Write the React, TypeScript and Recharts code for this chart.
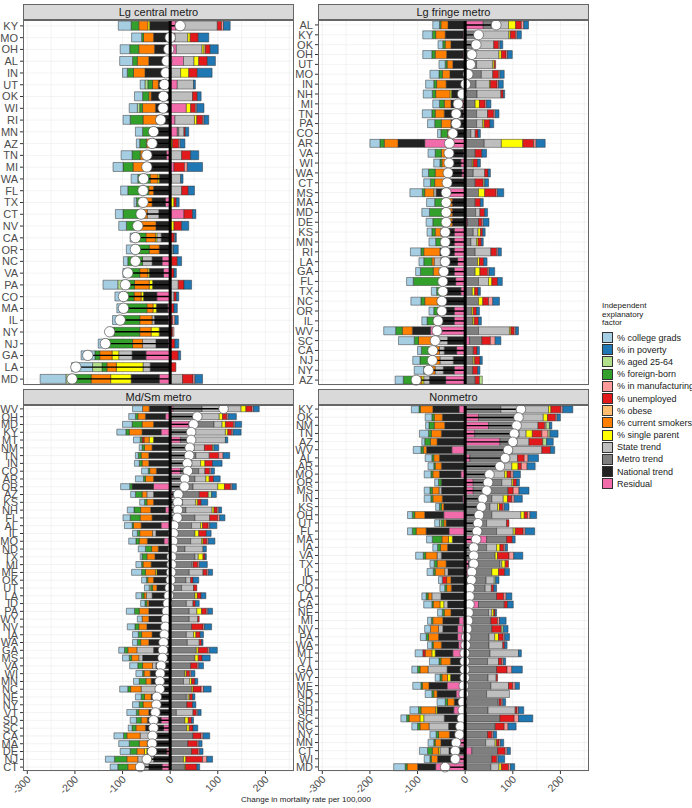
import React from 'react'
import { ComposedChart, Bar, XAxis, YAxis, CartesianGrid, ReferenceLine } from 'recharts'

// legend order; each row below follows it
const FACTORS = [
  '% college grads', '% in poverty', '% aged 25-64', '% foreign-born', '% in manufacturing',
  '% unemployed', '% obese', '% current smokers', '% single parent',
  'State trend', 'Metro trend', 'National trend', 'Residual',
]
const COLORS = [
  '#A6CEE3', '#1F78B4', '#B2DF8A', '#33A02C', '#FB9A99', '#E31A1C', '#FDBF6F',
  '#FF7F00', '#FFFF00', '#BEBEBE', '#7F7F7F', '#222222', '#F26BAA',
]
const X_TICKS = [-300, -200, -100, 0, 100, 200]
const X_GRID = [-300, -250, -200, -150, -100, -50, 0, 50, 100, 150, 200, 250]

// ---- Lg central metro
const centralStates = ['KY', 'MO', 'OH', 'AL', 'IN', 'UT', 'OK', 'WI', 'RI', 'MN', 'AZ', 'TN', 'MI', 'WA', 'FL', 'TX', 'CT', 'NV', 'CA', 'OR', 'NC', 'VA', 'PA', 'CO', 'MA', 'IL', 'NY', 'NJ', 'GA', 'LA', 'MD']
const centralTotals = [21, 0, -3, -7, -9, -12, -14, -15, -20, -35, -38, -49, -49, -56, -57, -57, -61, -68, -73, -73, -73, -89, -94, -98, -98, -105, -127, -136, -173, -198, -206]
const centralValues = [
  [-27, 14, 0, -16, 4, 9, 0, -19, -4, 87, 0, -43, 12],
  [-21, 22, 0, -4, 0, 17, 0, -21, 5, 27, 0, -35, 10],
  [-20, 17, 0, -19, 0, 10, 3, -33, 4, 54, 0, -33, 13],
  [-27, 17, 0, -10, 0, 18, 0, -24, 10, 22, 0, -45, 28],
  [-10, 31, 0, -13, 0, 18, 0, -24, 17, 22, 0, -53, 0],
  [-10, 4, -6, -10, 0, 0, 0, -12, 0, 34, 0, -25, 15],
  [-17, 8, 0, -13, 0, 10, 0, -5, 0, 47, 0, -40, 0],
  [-17, 15, -5, -6, 3, 10, 0, -27, 9, 0, 0, -31, 34],
  [-15, 10, 0, -27, 3, 12, 0, -29, 5, 41, 0, -28, 10],
  [-15, 7, 0, -27, 0, 3, 0, 0, 0, 11, 3, -31, 15],
  [-7, 10, 0, -14, 3, 13, 0, -10, 5, 0, 0, -40, 0],
  [-23, 17, 0, -17, 0, 19, 0, -18, 0, 24, 0, -37, -8],
  [-21, 32, 0, -21, 6, 22, 0, -26, 0, 0, 0, -52, 8],
  [-14, 5, 0, -26, 0, 0, 0, -16, -3, 19, 3, -23, 0],
  [-15, 13, 0, -44, 0, 14, 0, -10, 0, 24, 0, -35, 0],
  [-5, 6, 0, -13, 0, 5, 0, -20, 8, 0, 0, -28, -10],
  [-16, 7, 0, -31, 0, 18, 0, -20, 0, -24, 0, -24, 29],
  [-16, 15, 0, -29, 0, 16, 0, -33, 8, 0, 0, -30, 0],
  [-5, 3, 0, -28, 2, 8, 0, -20, -3, -9, 0, -19, 0],
  [-17, 10, 0, -31, 0, 0, 0, -21, 0, 0, 7, -23, 0],
  [-9, 9, 0, -31, 0, 12, 0, 0, 3, -20, 0, -21, -17],
  [-14, 5, 0, -21, 0, 8, 0, -17, -3, 0, 0, -30, -14],
  [-31, 16, -9, -26, 0, 12, 0, -31, -7, 17, 0, -37, 0],
  [-17, 5, 0, -23, 0, 5, 0, -15, -5, 8, 0, -28, -28],
  [-14, 7, 0, -49, 0, 8, 0, -13, -7, 0, 0, -24, -5],
  [-15, 7, 0, -42, 5, 5, 0, -26, 0, -5, 0, -29, -4],
  [-8, 0, -5, -54, 3, 5, 0, -24, -17, 0, 0, -23, 0],
  [-16, 8, 0, -56, 0, 10, 0, -21, 0, -28, 0, -26, -4],
  [-29, 5, 0, -10, 0, 17, 0, -26, -14, -28, 0, -29, -51],
  [-44, 0, -20, -10, 0, 12, 0, -20, -56, -15, 0, -42, 0],
  [-54, 16, -16, -37, 4, 22, 0, -41, -43, 26, 0, -59, -23],
]

// ---- Lg fringe metro
const fringeStates = ['AL', 'KY', 'OK', 'OH', 'UT', 'MO', 'IN', 'NH', 'MI', 'TN', 'PA', 'CO', 'AR', 'VA', 'WI', 'WA', 'CT', 'MS', 'MA', 'MD', 'DE', 'KS', 'MN', 'RI', 'LA', 'GA', 'FL', 'TX', 'NC', 'OR', 'IL', 'WV', 'SC', 'CA', 'NJ', 'NY', 'AZ']
const fringeTotals = [65, 28, 23, 14, 11, 6, 1, -6, -15, -19, -19, -26, -33, -34, -34, -36, -38, -40, -40, -40, -40, -42, -42, -42, -42, -45, -47, -47, -49, -49, -57, -59, -63, -68, -69, -77, -103]
const fringeValues = [
  [-14, 10, 0, -3, 5, 12, 0, -15, 15, 36, 17, -36, 38],
  [-20, 9, 0, -7, 3, 11, 0, -20, 3, 71, 21, -38, -4],
  [-10, 6, 0, -5, 3, 10, 0, -12, 0, 43, 17, -30, 0],
  [-19, 10, 0, -7, 3, 10, 0, -24, 5, 49, 22, -35, -4],
  [-13, 0, 0, -4, 0, 3, 0, -12, 3, 34, 24, -26, 0],
  [-19, 9, 0, -7, 3, 12, 0, -16, 0, 24, 34, -32, 0],
  [-17, 10, 0, -6, 3, 14, 0, -20, 2, 28, 23, -40, 0],
  [-19, 3, 0, -7, 0, 5, 0, -30, -3, 50, 25, -29, 0],
  [-14, 9, 0, -10, 3, 12, 0, -14, 9, 0, 21, -25, -5],
  [-20, 8, 0, -7, 3, 13, 0, -19, 0, 23, 24, -40, -4],
  [-15, 8, 0, -14, 0, 12, 0, -20, 3, 13, 24, -30, 0],
  [-7, 5, 0, -14, 0, 6, 0, -15, 0, 9, 12, -22, 0],
  [-21, 19, 0, -9, 5, 23, 0, -29, 45, 36, 40, -56, -85],
  [-15, 10, 0, -13, 0, 14, 0, -13, 0, 0, 21, -33, -4],
  [-13, 6, 0, -4, 0, 9, 0, -10, 2, 0, 15, -30, -9],
  [-13, 5, 0, -14, 0, 7, 0, -20, 0, 24, 17, -36, -7],
  [-14, 8, 3, -9, 0, 17, 0, -20, 0, 0, 21, -44, 0],
  [-26, 13, 0, -5, 3, 24, 0, -19, 13, -5, 28, -24, -37],
  [-17, 6, 0, -20, 0, 11, 0, -17, 0, 0, 21, -27, 0],
  [-16, 6, 0, -28, 0, 10, 0, -20, 0, 9, 22, -27, 0],
  [-14, 12, 0, -21, 3, 7, 0, -20, 0, 0, 23, -27, 5],
  [-10, 5, 0, -7, 0, 5, 0, -12, 5, 10, 17, -28, -23],
  [-14, 4, 0, -11, 0, 7, 0, -7, 3, 12, 12, -21, -23],
  [-22, 7, 0, -6, 3, 12, 0, -34, 0, 33, 21, -30, -23],
  [-10, 7, 0, -17, 0, 9, 0, -5, 4, -14, 26, -35, -16],
  [-10, 12, 0, -27, 3, 16, 0, -16, 10, 0, 21, -28, -23],
  [-14, 10, 0, -59, 0, 12, 0, -5, 7, 21, 28, -25, -20],
  [-11, 5, 0, -12, 0, 7, 0, -9, 5, 0, 15, -30, -9],
  [-21, 14, 0, -8, 9, 12, 0, -28, 9, -7, 28, -50, 0],
  [-10, 6, 0, -8, 0, 7, 0, -7, 3, 0, 14, -28, -23],
  [-11, 6, 0, -14, 0, 9, 0, -12, 3, 0, 16, -31, -23],
  [-25, 6, 0, -14, 3, 7, 0, -21, 3, 65, 28, -38, -73],
  [-33, 12, 0, -9, 10, 18, 0, -33, 0, -28, 26, -37, 9],
  [-8, 5, 0, -17, 0, 8, 0, -21, 0, -10, 17, -26, -18],
  [-15, 5, 0, -22, 0, 11, 0, -20, 3, -28, 17, -25, 0],
  [-20, 5, 0, -9, 0, 10, 0, -15, 0, -17, 16, -23, -23],
  [-17, 0, 6, -20, 0, 9, 0, -19, -4, -12, 21, -34, -41],
]

// ---- Md/Sm metro
const mdsmStates = ['WV', 'OH', 'MD', 'KY', 'MT', 'NM', 'TN', 'IN', 'CO', 'AR', 'OR', 'AZ', 'KS', 'NH', 'FL', 'AL', 'IL', 'MO', 'ND', 'TX', 'MI', 'ME', 'OK', 'UT', 'LA', 'ID', 'PA', 'WY', 'NV', 'IA', 'WA', 'GA', 'MS', 'VA', 'WI', 'MN', 'NC', 'NE', 'NY', 'VT', 'SD', 'SC', 'CA', 'MA', 'DE', 'NJ', 'CT']
const mdsmTotals = [112, 57, 49, 44, 44, 41, 40, 36, 37, 31, 30, 17, 16, 16, 15, 8, 7, 6, 6, 3, 3, 2, 1, -1, -3, -5, -7, -9, -10, -12, -14, -15, -16, -19, -21, -22, -22, -28, -29, -31, -35, -35, -37, -38, -38, -49, -63]
const mdsmValues = [
  [-21, 12, 0, 0, 3, 13, 0, -14, 10, 82, 61, -44, 6],
  [-14, 17, 0, -5, 3, 9, 0, -16, 7, 47, 56, -42, -10],
  [-20, 14, 0, -21, 3, 17, 0, -24, 7, 17, 52, -35, 40],
  [-19, 17, 0, -7, 3, 8, 0, -27, 5, 66, 50, -40, -19],
  [-14, 5, 0, -4, 0, -4, 0, -11, -9, 65, 29, -35, 22],
  [-6, 10, 3, -5, 0, 17, 0, -16, 0, 22, 50, -38, 0],
  [-6, 14, 0, -6, 9, 20, 0, -16, 0, 28, 54, -45, 0],
  [-10, 20, 0, -6, 0, 16, 0, -14, 9, 19, 45, -45, 0],
  [-14, 7, 0, -3, 3, 10, 0, -14, 0, 13, 38, -29, 22],
  [-17, 14, 0, -4, 0, 9, 0, -17, 7, 23, 52, -35, 0],
  [-19, 9, 0, -5, 3, 13, 0, 0, 14, 52, 48, -45, -35],
  [-10, 10, 7, -14, 0, 19, 0, -10, 0, -14, 56, -35, 5],
  [-10, 14, 0, -5, 0, 7, 0, -14, 4, 28, 26, -35, 0],
  [-14, 6, 0, -14, 3, 7, 0, -21, 4, 55, 33, -31, -10],
  [-15, 11, 0, -21, 4, 17, 0, -25, 0, 31, 52, -38, 0],
  [-16, 15, 0, -3, 3, 12, 0, -16, 4, 19, 45, -42, -19],
  [-10, 10, 0, -5, 0, 16, 0, -27, 8, -7, 52, -30, 0],
  [-15, 14, 0, -7, 3, 8, 0, -17, 3, 23, 43, -35, -13],
  [-15, 7, 0, -13, 0, 0, 0, -14, 0, 38, 31, -25, 0],
  [-4, 3, 0, -10, 0, 4, 0, -17, 10, 7, 52, -32, 0],
  [-12, 17, 0, -3, 3, 10, 0, -17, 0, 3, 45, -40, 0],
  [-21, 9, 0, -8, 3, 8, 0, -21, -3, 29, 40, -28, 0],
  [-10, 12, 0, -3, 0, 5, 0, -12, 0, 10, 33, -35, 0],
  [-10, 0, -3, -4, 0, 7, 0, -9, 0, 25, 24, -22, -6],
  [-12, 10, 0, -5, 0, 8, 0, -5, 5, -12, 52, -38, 0],
  [-9, 8, 0, -4, 0, 5, 0, -4, 0, 14, 34, -45, 0],
  [-17, 10, 0, -10, 3, 10, 0, -20, 10, 16, 40, -45, 0],
  [-10, 0, 0, 0, 0, 3, 0, -14, 0, 18, 40, -45, 0],
  [-16, 15, 0, -8, 3, 24, 0, -17, 0, 0, 45, -49, 0],
  [-12, 7, 0, -7, 0, 9, 0, -22, 5, 15, 34, -38, 0],
  [-10, 3, 0, -7, 0, 5, 0, -17, 0, 25, 36, -45, 0],
  [-12, 17, 0, -7, 3, 20, 0, -19, 4, -35, 55, -35, 0],
  [-14, 17, 0, -5, 0, 8, 0, -15, 7, -8, 52, -58, 0],
  [-17, 10, 0, -10, 3, 14, 0, -21, 0, -7, 43, -30, 0],
  [-14, 8, 0, -3, 3, 7, 0, -13, 3, 0, 31, -42, 0],
  [-12, 6, 0, -14, 0, 7, 0, -11, 4, 13, 28, -40, 0],
  [-17, 16, 0, -6, 5, 17, 0, -22, 3, -31, 45, -30, 0],
  [-12, 5, 0, -7, 0, 6, 0, -14, 3, 4, 34, -40, 0],
  [-14, 7, 0, -8, 0, 12, 0, -25, 0, 0, 35, -32, 0],
  [-20, 7, 0, -5, 3, 7, 0, -21, 0, 35, 13, -45, 0],
  [-13, 4, 0, -10, 0, 7, 0, -13, 7, 0, 31, -29, -19],
  [-8, 10, 0, -8, 0, 8, 0, -20, 5, 0, 35, -38, -14],
  [-20, 14, 0, -7, 4, 17, 0, -28, 0, -21, 48, -42, 0],
  [-22, 7, 0, -21, 3, 20, 0, -17, 0, 0, 37, -48, 0],
  [-21, 7, 0, -14, 3, 14, 0, -16, -5, 0, 45, -42, -7],
  [-19, 12, 0, -26, 9, 35, 0, -23, 5, -33, 25, -35, 3],
  [-16, 6, 0, -21, 0, 24, 0, -20, 2, -24, 30, -28, -17],
]

// ---- Nonmetro
const nonStates = ['KY', 'OK', 'NM', 'TN', 'AZ', 'WV', 'AL', 'AR', 'MO', 'OR', 'MS', 'IN', 'KS', 'OH', 'UT', 'FL', 'MA', 'IA', 'VA', 'TX', 'IL', 'ID', 'CO', 'LA', 'CA', 'NE', 'MI', 'NV', 'PA', 'WA', 'MT', 'VT', 'GA', 'WY', 'ME', 'ND', 'SD', 'NH', 'SC', 'NC', 'NY', 'MN', 'CT', 'WI', 'MD']
const nonTotals = [117, 112, 108, 103, 100, 90, 84, 73, 51, 48, 45, 37, 34, 29, 27, 25, 23, 18, 18, 18, 14, 13, 10, 9, 9, 7, 6, 4, 2, 1, -1, -1, -1, -1, -3, -3, -5, -5, -7, -10, -12, -19, -21, -21, -42]
const nonValues = [
  [-16, 21, 0, -3, 4, 21, 0, -26, 5, 100, 75, -55, -13],
  [-14, 7, 0, -5, 3, 17, 0, -17, 9, 58, 78, -48, 28],
  [-7, 5, 7, -11, 3, 14, 0, -22, 0, 41, 63, -43, 49],
  [-19, 17, 4, -6, 13, 20, 0, -21, 13, 15, 93, -50, 20],
  [-6, 14, 8, -12, 0, 29, 0, -14, 0, 26, 35, -59, 73],
  [-16, 9, 0, -5, 0, 18, 0, -7, 0, 63, 98, -53, -28],
  [-14, 22, 0, -4, 8, 14, 0, -12, 0, 20, 80, -54, 10],
  [-12, 17, 0, -3, 12, 7, 0, -13, 13, 21, 77, -50, 0],
  [-14, 15, 0, -4, 5, 8, 0, -14, 5, 27, 56, -45, -9],
  [-8, 6, 0, -6, 0, 7, 0, 0, 3, 21, 60, -50, 17],
  [-12, 21, 0, -5, 12, 11, 0, -14, 0, -5, 73, -50, 17],
  [-14, 17, 0, -4, 5, 9, 0, -20, 9, 24, 56, -43, -5],
  [-8, 10, 0, -4, 3, 7, 0, -5, 4, 16, 52, -45, 0],
  [-10, 14, 0, -5, 5, 7, 0, -21, 7, 61, 56, -40, -45],
  [-10, 0, -4, -5, 0, 5, 0, -5, 0, 42, 45, -40, 0],
  [-10, 20, 0, -8, 4, 17, 0, -21, 4, 35, 66, -48, -34],
  [-12, 6, 0, -20, 0, 12, 0, -14, -8, 0, 42, -27, 45],
  [-10, 5, 0, -6, 3, 8, 0, -15, 7, 21, 45, -37, 0],
  [-16, 19, 0, -5, 10, 24, 0, -24, 5, -9, 63, -50, 0],
  [-9, 0, 0, -6, 0, 7, 0, -19, 7, 4, 66, -40, 7],
  [-13, 10, 0, -4, 0, 13, 0, -20, 14, -7, 49, -36, 7],
  [-8, 7, 3, 0, 0, -9, 0, -9, 0, 17, 44, -30, 0],
  [-10, 6, 0, -4, 0, 5, 0, -10, 0, 13, 42, -29, 0],
  [-9, 12, 0, -4, 5, 15, 0, -8, 0, -19, 66, -51, 0],
  [-17, 12, 0, -3, 0, 7, 0, -14, -8, -8, 54, -37, 28],
  [-10, 3, 0, -4, 0, 3, 0, -14, 4, 7, 49, -30, 0],
  [-8, 14, 0, -3, 4, 14, 0, -21, 0, 0, 54, -34, -13],
  [-12, 10, 4, 0, 0, 20, 0, -17, 0, -9, 56, -31, -16],
  [-12, 10, 0, -5, 3, 10, 0, -21, 8, 12, 50, -40, -16],
  [-9, 5, 0, -3, 0, 4, 0, -17, 0, 29, 50, -36, -14],
  [-16, 6, 0, 0, 0, -5, 0, -14, -7, 60, 52, -37, -26],
  [-20, 5, 0, -4, 3, 7, 0, -20, 0, 23, 47, -31, 0],
  [-12, 22, 0, -5, 10, 22, 0, -17, 0, -40, 66, -38, 0],
  [-10, 0, 0, -4, 0, 3, 0, -12, -6, 17, 48, -31, 0],
  [-17, 9, 0, -3, 5, 9, 0, -14, 0, 37, 54, -38, -38],
  [-14, 0, 0, -4, 0, 0, 0, -7, 0, 48, 45, -40, -19],
  [-17, 6, 0, -5, 3, 5, 0, -14, 0, 3, 68, -23, 0],
  [-18, 11, 0, -5, 3, 4, 0, -31, -3, 57, 48, -35, -24],
  [-12, 30, 0, -5, 9, 30, 0, -23, -8, -43, 73, -44, 0],
  [-12, 17, 0, -5, 8, 19, 0, -19, 0, -41, 63, -35, 0],
  [-13, 7, 0, -5, 3, 9, 0, -23, 0, 0, 47, -28, -5],
  [-12, 7, 0, -3, 3, 5, 0, -12, 3, 20, 43, -31, -20],
  [-17, 7, 0, -10, 4, 16, 0, -13, -3, -19, 54, -34, 14],
  [-12, 14, 0, -3, 3, 10, 0, -13, 0, 0, 56, -42, -16],
  [-24, 9, 0, -4, 4, 15, 0, -22, 5, 17, 54, -38, -62],
]

const FONT = '"Liberation Sans", Arial, sans-serif'
const keyOf = (i: number) => 'f' + i
const PAD = 6

function buildRows(states: string[], totals: number[], values: number[][]) {
  return states.map((state, i) => {
    const row: any = { state, total: totals[i] }
    values[i].forEach((v, j) => { row[keyOf(j)] = v })
    return row
  })
}

function Lollipop(props: any) {
  const { x, y, width, height, payload, r } = props
  if (x == null || y == null) return null
  const a = x, b = x + (width || 0)
  const lo = Math.min(a, b), hi = Math.max(a, b)
  const pos = payload.total >= 0
  const zero = pos ? lo : hi
  const end = pos ? hi : lo
  const cy = y + height / 2
  return (
    <g>
      <line x1={zero} x2={end} y1={cy} y2={cy} stroke="#000" strokeWidth={1.4} />
      <circle cx={end} cy={cy} r={r} fill="#fff" stroke="#555" strokeWidth={0.7} />
    </g>
  )
}

function AngledTick(props: any) {
  const { x, y, payload } = props
  return (
    <text x={x + 4} y={y + 4} transform={`rotate(-45 ${x + 4} ${y + 4})`} textAnchor="end"
      fontSize={10.5} fill="#4D4D4D" fontFamily={FONT}>
      {payload.value}
    </text>
  )
}

interface FacetProps {
  title: string
  rows: any[]
  left: number
  top: number
  plotH: number
  showX: boolean
  dotR: number
}

function Facet({ title, rows, left, top, plotH, showX, dotR }: FacetProps) {
  const axisH = showX ? 30 : 0
  const stackOrder = [12, 11, 10, 9, 8, 7, 6, 5, 4, 3, 2, 1, 0]
  return (
    <>
      <div style={{ position: 'absolute', left, top: top - PAD }}>
        <ComposedChart width={294} height={plotH + axisH + PAD * 2} data={rows} layout="vertical"
          stackOffset="sign" barCategoryGap="10%" margin={{ top: PAD, right: 0, bottom: PAD, left: 0 }}>
          <CartesianGrid stroke="#EBEBEB" strokeWidth={0.6} verticalValues={X_GRID} />
          <XAxis type="number" domain={[-309, 260]} ticks={X_TICKS} allowDataOverflow
            hide={!showX} height={axisH} axisLine={false} tickSize={3}
            tickLine={{ stroke: '#333' }} tick={<AngledTick />} interval={0} />
          <YAxis type="category" dataKey="state" width={23} interval={0} axisLine={false}
            tickSize={3} tickMargin={2} tickLine={{ stroke: '#333' }}
            tick={{ fontSize: 11, fill: '#4D4D4D', fontFamily: FONT }} />
          <YAxis yAxisId="dot" type="category" dataKey="state" hide />
          {stackOrder.map((j) => (
            <Bar key={j} dataKey={keyOf(j)} stackId="a" fill={COLORS[j]} stroke="#333"
              strokeWidth={0.5} isAnimationActive={false} />
          ))}
          <ReferenceLine x={0} stroke="#000" strokeWidth={3} />
          <Bar dataKey="total" yAxisId="dot" isAnimationActive={false}
            shape={(p: any) => <Lollipop {...p} r={dotR} />} />
        </ComposedChart>
      </div>
      <div style={{
        position: 'absolute', left: left + 23, top: top - 16, width: 271, height: 17,
        boxSizing: 'border-box', background: '#D9D9D9', border: '1px solid #666',
        fontFamily: FONT, fontSize: 11, color: '#1A1A1A', textAlign: 'center', lineHeight: '15px',
      }}>{title}</div>
      <div style={{
        position: 'absolute', left: left + 23, top: top - 1, width: 271, height: plotH + 1,
        boxSizing: 'border-box', border: '1px solid #666', pointerEvents: 'none',
      }} />
    </>
  )
}

function Legend() {
  return (
    <div style={{ position: 'absolute', left: 602, top: 302, fontFamily: FONT, color: '#1A1A1A' }}>
      <div style={{ fontSize: 8, lineHeight: '8.5px', width: 80 }}>Independent<br />explanatory<br />factor</div>
      <div style={{ marginTop: 4 }}>
        {FACTORS.map((f, i) => (
          <div key={f} style={{ display: 'flex', alignItems: 'center', height: 12.2, whiteSpace: 'nowrap' }}>
            <span style={{ width: 11, height: 11, boxSizing: 'border-box', background: COLORS[i], border: '1px solid #333', marginRight: 4, flexShrink: 0 }} />
            <span style={{ fontSize: 9 }}>{f}</span>
          </div>
        ))}
      </div>
    </div>
  )
}

export default function App() {
  const central = buildRows(centralStates, centralTotals, centralValues)
  const fringe = buildRows(fringeStates, fringeTotals, fringeValues)
  const mdsm = buildRows(mdsmStates, mdsmTotals, mdsmValues)
  const non = buildRows(nonStates, nonTotals, nonValues)
  return (
    <div style={{ position: 'absolute', left: 0, top: 0, width: 692, height: 808, background: '#fff', overflow: 'hidden' }}>
      <Facet title="Lg central metro" rows={central} left={0} top={20} plotH={365} showX={false} dotR={5.2} />
      <Facet title="Lg fringe metro" rows={fringe} left={295} top={20} plotH={365} showX={false} dotR={5} />
      <Facet title="Md/Sm metro" rows={mdsm} left={0} top={405} plotH={366} showX dotR={4.8} />
      <Facet title="Nonmetro" rows={non} left={295} top={405} plotH={366} showX dotR={4.8} />
      <div style={{ position: 'absolute', left: 23, width: 566, top: 795, textAlign: 'center', fontFamily: FONT, fontSize: 8, color: '#1A1A1A' }}>
        Change in mortality rate per 100,000
      </div>
      <Legend />
    </div>
  )
}
